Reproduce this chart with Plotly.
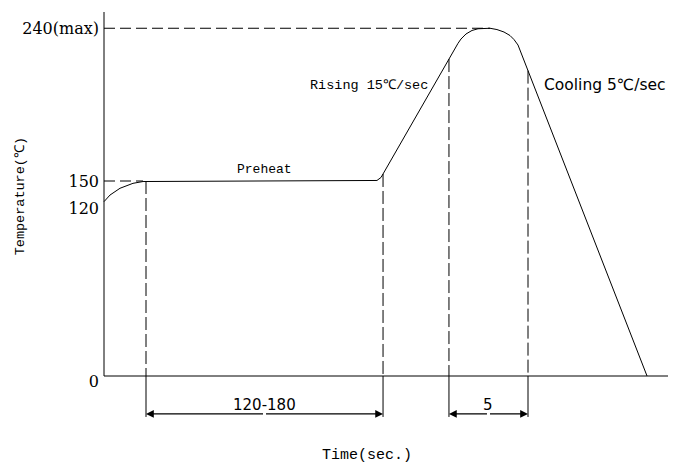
import plotly.graph_objects as go

# ---- data (schematic reflow profile, time in arbitrary sec units, temperature in chart units) ----
profile_time = [0, 3.75, 10, 18.1, 24.4, 168.1, 170.6, 173.1, 174.4, 221.25, 223.1, 226.25,
                230, 233.75, 236.9, 241.25, 245.6, 250, 253.75, 256.25, 258.75, 339.4]
profile_temp = [134.1, 139.2, 144.4, 148.2, 149.6, 150, 150.4, 152.7, 155.4, 255.9, 259.2, 263.1,
                265.8, 267.1, 267.5, 267.5, 266.5, 264.6, 261.9, 258.8, 254.6, 0]

# horizontal reference (dashed) lines: temperature, end time
ref_h_temp = [267.5, 150]
ref_h_end = [241.25, 24.4]

# vertical marker lines: time, top temperature
marker_time = [26.25, 174.4, 215.6, 265]
marker_top = [150, 155.4, 243.8, 234.9]

# dimension spans (start time, end time, label)
dim_start = [26.25, 215.6]
dim_end = [174.4, 265]
dim_labels = ["120-180", "5"]
dim_level = -29.2
ext_bottom = -31.5

# y tick labels
ytick_vals = [267.5, 150, 129.2, -4.5]
ytick_text = ["240(max)", "150", "120", "0"]

# text notes: label, time, temperature
note_labels = ["Preheat", "Rising 15℃/sec", "Cooling 5℃/sec"]
note_time = [100.3, 165.4, 313.4]
note_temp = [159.2, 223.1, 223.8]

x_axis_end = 357.5
y_axis_top = 280

mono = "Liberation Mono"
black = "#000000"

fig = go.Figure()

# axes lines
fig.add_trace(go.Scatter(x=[0, 0], y=[y_axis_top, 0], mode="lines",
                         line=dict(color=black, width=1), hoverinfo="skip", showlegend=False))
fig.add_trace(go.Scatter(x=[0, x_axis_end], y=[0, 0], mode="lines",
                         line=dict(color=black, width=1), hoverinfo="skip", showlegend=False))

# profile curve
fig.add_trace(go.Scatter(x=profile_time, y=profile_temp, mode="lines",
                         line=dict(color=black, width=1), showlegend=False))

# dashed horizontal references
for t, e in zip(ref_h_temp, ref_h_end):
    fig.add_trace(go.Scatter(x=[0, e], y=[t, t], mode="lines",
                             line=dict(color=black, width=1, dash="11px,5px"),
                             hoverinfo="skip", showlegend=False))

# dashed verticals + solid extension lines
for t, top in zip(marker_time, marker_top):
    fig.add_trace(go.Scatter(x=[t, t], y=[top, 0], mode="lines",
                             line=dict(color=black, width=1, dash="13px,4px"),
                             hoverinfo="skip", showlegend=False))
    fig.add_trace(go.Scatter(x=[t, t], y=[0, ext_bottom], mode="lines",
                             line=dict(color=black, width=1),
                             hoverinfo="skip", showlegend=False))

# dimension lines with arrows
for s, e, lab in zip(dim_start, dim_end, dim_labels):
    mid = (s + e) / 2
    for tip in (s, e):
        fig.add_annotation(x=tip, y=dim_level, ax=mid, ay=dim_level, xref="x", yref="y",
                           axref="x", ayref="y", text="", showarrow=True,
                           arrowhead=2, arrowsize=1.3, arrowwidth=1.2, arrowcolor=black, standoff=0)
    fig.add_annotation(x=mid, y=dim_level, xref="x", yref="y", text=lab, showarrow=False,
                       yanchor="bottom", yshift=-2,
                       font=dict(family="DejaVu Sans", size=15, color=black))

# notes
note_fonts = [dict(family=mono, size=13, color=black),
              dict(family=mono, size=13.5, color=black),
              dict(family="DejaVu Sans", size=15.5, color=black)]
for lab, t, v, f in zip(note_labels, note_time, note_temp, note_fonts):
    fig.add_annotation(x=t, y=v, xref="x", yref="y", text=lab, showarrow=False, font=f)

# axis titles
fig.add_annotation(x=-0.153, y=138.5, xref="paper", yref="y", text="Temperature(℃)",
                   textangle=-90, showarrow=False, font=dict(family=mono, size=13.5, color=black))
fig.add_annotation(x=164.2, y=-60.8, xref="x", yref="y", text="Time(sec.)",
                   showarrow=False, font=dict(family=mono, size=15, color=black))

# the page places the figure 8px in from the window's top-left corner
fig.update_layout(
    width=668, height=456,
    margin=dict(l=92, r=0, t=0, b=0),
    paper_bgcolor="white", plot_bgcolor="white",
    showlegend=False,
    xaxis=dict(range=[-2.5, x_axis_end], visible=False, fixedrange=True),
    yaxis=dict(range=[-67.69, 283.08], showgrid=False, zeroline=False, showline=False,
               tickmode="array", tickvals=ytick_vals, ticktext=ytick_text, ticks="",
               tickfont=dict(family="DejaVu Serif", size=16, color=black), fixedrange=True),
)

fig.write_html("out.html")
